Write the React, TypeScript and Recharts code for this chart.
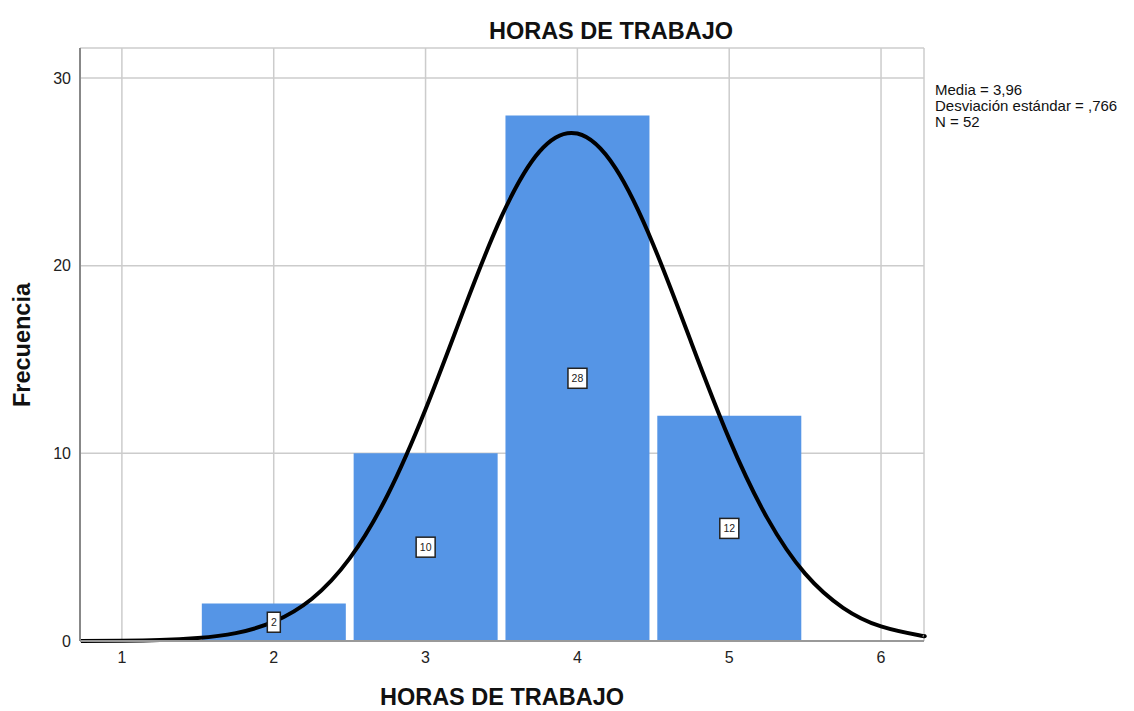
import { ComposedChart, Bar, Line, XAxis, YAxis, CartesianGrid, LabelList } from "recharts";

// histogram bins (centre of each 1-hour bin) and counts
const binCenters = [2, 3, 4, 5];
const frequencies = [2, 10, 28, 12];

// fitted normal curve
const curveHours = [0.73, 1, 1.25, 1.5, 1.75, 2, 2.25, 2.5, 2.75, 3, 3.25, 3.5, 3.75, 4, 4.25, 4.5, 4.75, 5, 5.25, 5.5, 5.75, 6, 6.25, 6.28];
const curveFreq = [0.004, 0.015, 0.05, 0.16, 0.42, 1.03, 2.24, 4.4, 7.78, 12.35, 17.62, 22.61, 26.08, 27.04, 25.21, 21.12, 15.91, 10.77, 6.56, 3.59, 1.77, 0.78, 0.31, 0.27];

const xTicks = [1, 2, 3, 4, 5, 6];
const yTicks = [0, 10, 20, 30];
const statsLines = ["Media = 3,96", "Desviación estándar = ,766", "N = 52"];

const title = "HORAS DE TRABAJO";
const xLabel = "HORAS DE TRABAJO";
const yLabel = "Frecuencia";

const barData = binCenters.map((h, i) => ({ hours: h, freq: frequencies[i] }));
const curveData = curveHours.map((h, i) => ({ hours: h, normal: curveFreq[i] }));

const FONT = "'Liberation Sans', Arial, sans-serif";
const xDomain: [number, number] = [0.724, 6.283];

function CountBox(props: any) {
  const { x, y, width, height, value } = props;
  const cx = Number(x) + Number(width) / 2;
  const cy = Number(y) + Number(height) / 2;
  const w = String(value).length > 1 ? 19 : 13;
  return (
    <g>
      <rect x={cx - w / 2} y={cy - 10} width={w} height={20} fill="#fff" stroke="#222" strokeWidth={1.5} />
      <text x={cx} y={cy} dy="0.35em" textAnchor="middle" fontSize={10.5} fontFamily={FONT} fill="#222">
        {value}
      </text>
    </g>
  );
}

export default function App() {
  return (
    <div style={{ position: "absolute", left: 0, top: 0, width: 1134, height: 711, background: "#fff" }}>
      <ComposedChart
        width={1134}
        height={711}
        data={barData}
        margin={{ top: 48, right: 210, bottom: 40, left: 30 }}
      >
        <CartesianGrid xAxisId="bins" stroke="#cccccc" strokeWidth={1.5} />
        <XAxis
          xAxisId="bins"
          dataKey="hours"
          type="number"
          domain={xDomain}
          ticks={xTicks}
          height={30}
          tickLine={false}
          tickSize={0}
          tickMargin={11}
          axisLine={{ stroke: "#999", strokeWidth: 2 }}
          tick={{ fill: "#222", fontSize: 16, fontFamily: FONT }}
        />
        <XAxis xAxisId="curve" dataKey="hours" type="number" domain={xDomain} hide />
        <YAxis
          domain={[0, 31.6]}
          ticks={yTicks}
          width={50}
          tickLine={false}
          tickSize={0}
          tickMargin={9}
          axisLine={{ stroke: "#888", strokeWidth: 2 }}
          tick={{ fill: "#222", fontSize: 16, fontFamily: FONT }}
        />
        <Bar xAxisId="bins" dataKey="freq" fill="#5595e6" barSize={144} isAnimationActive={false}>
          <LabelList dataKey="freq" content={CountBox} />
        </Bar>
        <Line
          xAxisId="curve"
          data={curveData}
          dataKey="normal"
          type="natural"
          stroke="#000"
          strokeWidth={4}
          dot={false}
          activeDot={false}
          isAnimationActive={false}
        />
      </ComposedChart>
      <svg
        width={1134}
        height={711}
        style={{ position: "absolute", left: 0, top: 0, pointerEvents: "none" }}
        fontFamily={FONT}
      >
        <text x={611} y={39} textAnchor="middle" fontSize={23.5} fontWeight="bold" fill="#111">
          {title}
        </text>
        <text x={502} y={705} textAnchor="middle" fontSize={23.5} fontWeight="bold" fill="#111">
          {xLabel}
        </text>
        <text
          transform="translate(30,345) rotate(-90)"
          textAnchor="middle"
          fontSize={23.5}
          fontWeight="bold"
          fill="#111"
        >
          {yLabel}
        </text>
        {statsLines.map((s, i) => (
          <text key={s} x={935} y={95 + i * 16} fontSize={15} fill="#111">
            {s}
          </text>
        ))}
      </svg>
    </div>
  );
}
